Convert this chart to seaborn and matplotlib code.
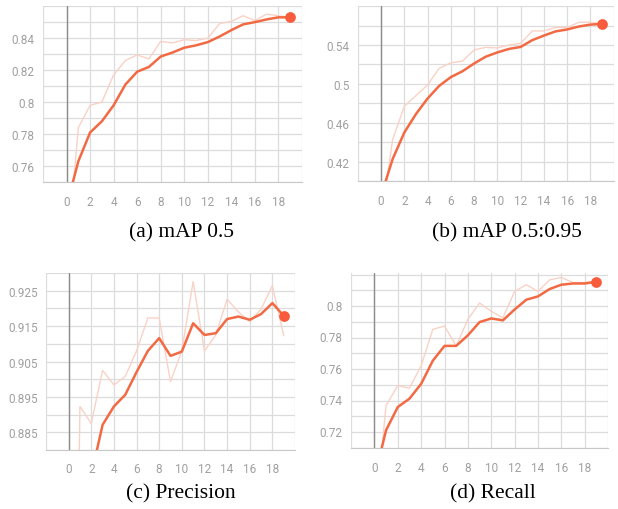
import numpy as np
import pandas as pd
import matplotlib
matplotlib.use("Agg")
import matplotlib.pyplot as plt
import seaborn as sns

# ---------------- data ----------------
epochs = list(range(20))

map50_raw = [0.70, 0.784, 0.798, 0.800, 0.817, 0.826, 0.8295, 0.827, 0.838, 0.837,
             0.839, 0.8385, 0.840, 0.849, 0.8505, 0.854, 0.851, 0.855, 0.854, 0.853]
map50_smooth = [0.735, 0.763, 0.781, 0.788, 0.798, 0.811, 0.819, 0.822, 0.8285, 0.831,
                0.834, 0.8355, 0.8375, 0.841, 0.845, 0.8486, 0.850, 0.8517, 0.853, 0.853]

map5095_raw = [0.36, 0.443, 0.477, 0.488, 0.499, 0.516, 0.5217, 0.5234, 0.535, 0.5376,
               0.537, 0.540, 0.5417, 0.5545, 0.5545, 0.558, 0.558, 0.5634, 0.5634, 0.5617]
map5095_smooth = [0.385, 0.4228, 0.450, 0.469, 0.485, 0.498, 0.507, 0.513, 0.521, 0.528,
                  0.5324, 0.536, 0.538, 0.545, 0.5497, 0.554, 0.556, 0.559, 0.561, 0.5617]

precision_raw = [0.65, 0.8923, 0.8875, 0.9025, 0.8984, 0.9008, 0.908, 0.9173, 0.9173, 0.8993,
                 0.908, 0.9276, 0.908, 0.9125, 0.9226, 0.919, 0.9163, 0.9198, 0.9264, 0.9123]
precision_smooth = [0.84, 0.86, 0.8729, 0.8871, 0.8923, 0.8956, 0.902, 0.908, 0.9116, 0.9066,
                    0.9078, 0.9158, 0.9125, 0.913, 0.917, 0.9177, 0.9168, 0.9184, 0.9215, 0.9179]

recall_raw = [0.66, 0.736, 0.7486, 0.747, 0.7612, 0.7843, 0.7864, 0.7738, 0.7906, 0.801,
              0.7958, 0.7916, 0.8084, 0.8126, 0.8084, 0.8157, 0.8172, 0.814, 0.814, 0.8145]
recall_smooth = [0.69, 0.7203, 0.735, 0.7403, 0.7497, 0.7644, 0.7738, 0.7738, 0.7805, 0.7889,
                 0.7912, 0.790, 0.7969, 0.8031, 0.8052, 0.8099, 0.8126, 0.8134, 0.8134, 0.8145]

captions = ["(a) mAP 0.5", "(b) mAP 0.5:0.95", "(c) Precision", "(d) Recall"]

x_ticks = [0, 2, 4, 6, 8, 10, 12, 14, 16, 18]
y_ticks_a = [0.76, 0.78, 0.80, 0.82, 0.84]
y_labels_a = ["0.76", "0.78", "0.8", "0.82", "0.84"]
y_ticks_b = [0.42, 0.46, 0.50, 0.54]
y_labels_b = ["0.42", "0.46", "0.5", "0.54"]
y_ticks_c = [0.885, 0.895, 0.905, 0.915, 0.925]
y_labels_c = ["0.885", "0.895", "0.905", "0.915", "0.925"]
y_ticks_d = [0.72, 0.74, 0.76, 0.78, 0.80]
y_labels_d = ["0.72", "0.74", "0.76", "0.78", "0.8"]

# ---------------- style ----------------
sns.set_style("white")
plt.rcParams["font.family"] = ["Roboto", "DejaVu Sans"]

LINE = "#f26a43"
RAW = "#f9d2c6"
DOT = "#f95c3c"
GRID = "#dcdcdc"
TXT = "#a0a0a0"

fig = plt.figure(figsize=(6.18, 5.10), dpi=100)

panels = [
    # rect, raw, smooth, ylim, minor step, ticks, labels, caption pos
    ([0.0696, 0.641, 0.419, 0.345], map50_raw, map50_smooth, (0.75, 0.860), 0.01,
     y_ticks_a, y_labels_a, (0.293, 0.525)),
    ([0.579, 0.643, 0.414, 0.343], map5095_raw, map5095_smooth, (0.40, 0.580), 0.02,
     y_ticks_b, y_labels_b, (0.82, 0.525)),
    ([0.0744, 0.1157, 0.403, 0.347], precision_raw, precision_smooth, (0.88, 0.930), 0.005,
     y_ticks_c, y_labels_c, (0.292, 0.013)),
    ([0.568, 0.1196, 0.416, 0.343], recall_raw, recall_smooth, (0.709, 0.82), 0.01,
     y_ticks_d, y_labels_d, (0.798, 0.013)),
]

for (rect, raw, smooth, ylim, step, yt, yl, cpos), cap in zip(panels, captions):
    ax = fig.add_axes(rect)
    df = pd.DataFrame({"step": epochs, "raw": raw, "smooth": smooth})

    # grid
    for gx in range(-2, 21, 2):
        ax.axvline(gx, color=GRID, lw=0.9, zorder=0)
    n = int(round((ylim[1] - ylim[0]) / step)) + 1
    for k in range(n + 1):
        ax.axhline(ylim[0] + k * step, color=GRID, lw=0.9, zorder=0)
    ax.axvline(0, color="#8c8c8c", lw=1.0, zorder=1)

    sns.lineplot(data=df, x="step", y="raw", ax=ax, color=RAW, lw=1.0, zorder=2)
    sns.lineplot(data=df, x="step", y="smooth", ax=ax, color=LINE, lw=1.8, zorder=3)
    ax.scatter([epochs[-1]], [smooth[-1]], s=45, color=DOT, zorder=4, clip_on=False)

    ax.set_xlim(-2, 20)
    ax.set_ylim(*ylim)
    ax.set_xticks(x_ticks)
    ax.set_xticklabels([str(t) for t in x_ticks])
    ax.set_yticks(yt)
    ax.set_yticklabels(yl)
    ax.set_xlabel("")
    ax.set_ylabel("")
    for s in ["top", "right", "left"]:
        ax.spines[s].set_visible(False)
    ax.spines["bottom"].set_color("#c8c8c8")
    ax.tick_params(axis="both", colors=TXT, labelsize=8.5, length=3, width=0.8,
                   color="#c8c8c8")
    ax.tick_params(axis="x", pad=6)
    ax.tick_params(axis="y", pad=3)

    fig.text(cpos[0], cpos[1], cap, ha="center", va="bottom",
             family="Liberation Serif", fontsize=15.5, color="black")

fig.savefig("out.png", dpi=100)
